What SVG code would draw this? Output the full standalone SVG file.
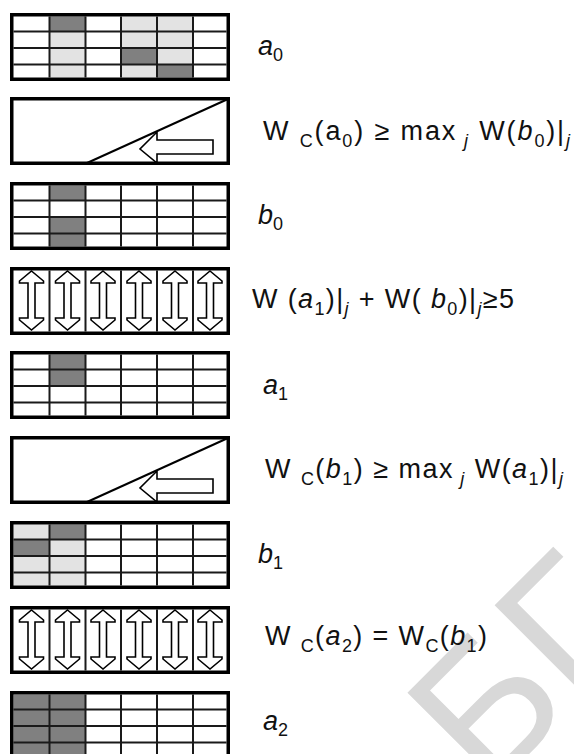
<svg xmlns="http://www.w3.org/2000/svg" xmlns:xlink="http://www.w3.org/1999/xlink" width="574" height="754" viewBox="0 0 574 754">
<style>
.frame{fill:none;stroke:#000;stroke-width:3.5}
.gl{stroke:#1a1a1a;stroke-width:2;fill:none}
.dk{fill:#808080}
.lt{fill:#e3e3e3}
.arr{fill:#fff;stroke:#000;stroke-width:1.6;stroke-linejoin:miter}
.diag{stroke:#000;stroke-width:2}
text{font-family:"Liberation Sans",Arial,sans-serif;font-size:27px;fill:#111}
.i{font-style:italic}
.s{font-size:18px}
.wm{font-family:"Liberation Sans",Arial,sans-serif;font-size:188px;fill:#d8d8d8}
</style>
<defs>
<g id="grid" class="gl">
<path d="M49.5 3.5V64.5M85.5 3.5V64.5M121 3.5V64.5M157 3.5V64.5M193 3.5V64.5M13.5 18.5H226.5M13.5 35H226.5M13.5 51.5H226.5"/>
</g>
<g id="cols" class="gl">
<path d="M49.5 3.5V64.5M85.5 3.5V64.5M121 3.5V64.5M157 3.5V64.5M193 3.5V64.5"/>
</g>
<rect id="frm" class="frame" x="11.75" y="1.75" width="216.5" height="64.5"/>
<polygon id="dbl" class="arr" points="0,4 12,14 12,16 3.5,16 3.5,51 12,51 12,53 0,63 -12,53 -12,51 -3.5,51 -3.5,16 -12,16 -12,14"/>
<g id="shift">
<line class="diag" x1="87" y1="66" x2="228" y2="2"/>
<polygon class="arr" points="157,35 140,52 157,66 157,57 213,57 213,43 157,43"/>
</g>
</defs>

<text class="wm" transform="translate(488,795) rotate(-45)">БГ</text>

<g id="box-a0" transform="translate(0,13)">
<rect class="lt" x="49.5" y="3.5" width="36" height="61"/>
<rect class="lt" x="121" y="3.5" width="72" height="61"/>
<rect class="dk" x="49.5" y="3.5" width="36" height="15"/>
<rect class="dk" x="121" y="35" width="36" height="16.5"/>
<rect class="dk" x="157" y="51.5" width="36" height="13"/>
<use xlink:href="#grid"/><use xlink:href="#frm"/>
</g>
<g id="box-shift1" transform="translate(0,97)">
<use xlink:href="#shift"/><use xlink:href="#frm"/>
</g>
<g id="box-b0" transform="translate(0,182)">
<rect class="dk" x="49.5" y="3.5" width="36" height="15"/>
<rect class="dk" x="49.5" y="35" width="36" height="29.5"/>
<use xlink:href="#grid"/><use xlink:href="#frm"/>
</g>
<g id="box-swap1" transform="translate(0,267)">
<use xlink:href="#cols"/>
<use xlink:href="#dbl" x="31.5"/><use xlink:href="#dbl" x="67.5"/><use xlink:href="#dbl" x="103"/>
<use xlink:href="#dbl" x="139"/><use xlink:href="#dbl" x="175"/><use xlink:href="#dbl" x="210"/>
<use xlink:href="#frm"/>
</g>
<g id="box-a1" transform="translate(0,351)">
<rect class="dk" x="49.5" y="3.5" width="36" height="31.5"/>
<use xlink:href="#grid"/><use xlink:href="#frm"/>
</g>
<g id="box-shift2" transform="translate(0,436)">
<use xlink:href="#shift"/><use xlink:href="#frm"/>
</g>
<g id="box-b1" transform="translate(0,521)">
<rect class="lt" x="13.5" y="3.5" width="72" height="61"/>
<rect class="dk" x="49.5" y="3.5" width="36" height="15"/>
<rect class="dk" x="13.5" y="18.5" width="36" height="16.5"/>
<use xlink:href="#grid"/><use xlink:href="#frm"/>
</g>
<g id="box-swap2" transform="translate(0,606)">
<use xlink:href="#cols"/>
<use xlink:href="#dbl" x="31.5"/><use xlink:href="#dbl" x="67.5"/><use xlink:href="#dbl" x="103"/>
<use xlink:href="#dbl" x="139"/><use xlink:href="#dbl" x="175"/><use xlink:href="#dbl" x="210"/>
<use xlink:href="#frm"/>
</g>
<g id="box-a2" transform="translate(0,691)">
<rect class="dk" x="13.5" y="3.5" width="72" height="61"/>
<use xlink:href="#grid"/><use xlink:href="#frm"/>
</g>

<g id="labels" xml:space="preserve">
<text x="258" y="55"><tspan class="i">a</tspan><tspan class="s" dy="6">0</tspan></text>
<text x="263" y="140" textLength="307" lengthAdjust="spacing">W <tspan class="s" dy="7">C</tspan><tspan dy="-7">(a</tspan><tspan class="s" dy="7">0</tspan><tspan dy="-7">)  ≥  max</tspan><tspan class="s i" dy="7"> j</tspan><tspan dy="-7"> W(</tspan><tspan class="i">b</tspan><tspan class="s" dy="7">0</tspan><tspan dy="-7">)|</tspan><tspan class="s i" dy="7">j</tspan></text>
<text x="258" y="224"><tspan class="i">b</tspan><tspan class="s" dy="6">0</tspan></text>
<text x="252" y="308" textLength="262" lengthAdjust="spacing">W (<tspan class="i">a</tspan><tspan class="s" dy="7">1</tspan><tspan dy="-7">)|</tspan><tspan class="s i" dy="7">j</tspan><tspan dy="-7"> + W( </tspan><tspan class="i">b</tspan><tspan class="s" dy="7">0</tspan><tspan dy="-7">)|</tspan><tspan class="s i" dy="7">j</tspan><tspan dy="-7">≥5</tspan></text>
<text x="263" y="394"><tspan class="i">a</tspan><tspan class="s" dy="6">1</tspan></text>
<text x="265" y="478" textLength="298" lengthAdjust="spacing">W <tspan class="s" dy="7">C</tspan><tspan dy="-7">(</tspan><tspan class="i">b</tspan><tspan class="s" dy="7">1</tspan><tspan dy="-7">) ≥ max</tspan><tspan class="s i" dy="7"> j</tspan><tspan dy="-7"> W(</tspan><tspan class="i">a</tspan><tspan class="s" dy="7">1</tspan><tspan dy="-7">)|</tspan><tspan class="s i" dy="7">j</tspan></text>
<text x="258" y="563"><tspan class="i">b</tspan><tspan class="s" dy="6">1</tspan></text>
<text x="265" y="645" textLength="222" lengthAdjust="spacing">W <tspan class="s" dy="7">C</tspan><tspan dy="-7">(</tspan><tspan class="i">a</tspan><tspan class="s" dy="7">2</tspan><tspan dy="-7">) = W</tspan><tspan class="s" dy="7">C</tspan><tspan dy="-7">(</tspan><tspan class="i">b</tspan><tspan class="s" dy="7">1</tspan><tspan dy="-7">)</tspan></text>
<text x="263" y="730"><tspan class="i">a</tspan><tspan class="s" dy="6">2</tspan></text>
</g>
</svg>
